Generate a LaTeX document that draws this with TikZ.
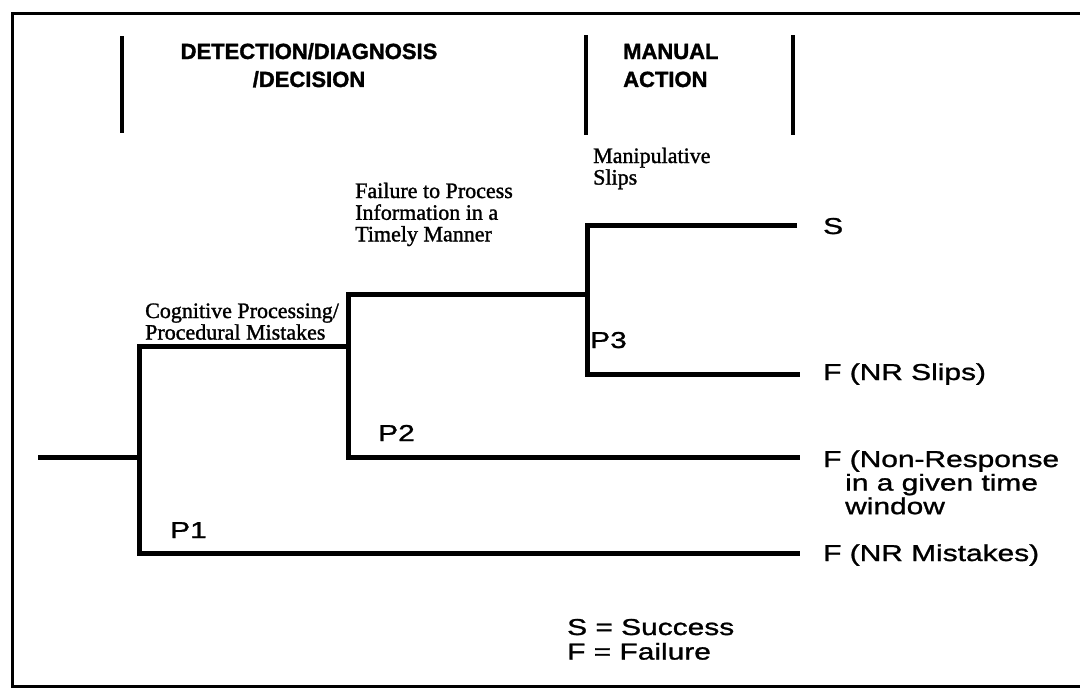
\documentclass[tikz,border=0pt]{standalone}
\usepackage{fontspec}
\newfontfamily\sansw{Liberation Sans}[FakeStretch=1.3, FakeBold=1.2]
\newfontfamily\hdrfont{Liberation Sans Bold}[FakeBold=1.5]
\newfontfamily\serifw{Liberation Serif}[FakeBold=1.3]
\begin{document}
\begin{tikzpicture}[x=1pt,y=-1pt,
  frame/.style={line width=3pt},
  bar/.style={line width=3.5pt},
  tree/.style={line width=5pt},
  lbl/.style={inner sep=0pt, anchor=base west, font=\sansw\fontsize{23}{23}\selectfont},
  ser/.style={inner sep=0pt, anchor=base west, font=\serifw\fontsize{22}{21}\selectfont},
  hdr/.style={inner sep=0pt, font=\hdrfont\fontsize{22}{28}\selectfont}]
\useasboundingbox (0,0) rectangle (1080,688);
\fill[white] (0,0) rectangle (1080,688);
% frame (open on the right)
\coordinate (ftr) at (1080,13);
\coordinate (ftl) at (12,13);
\coordinate (fbl) at (12,686);
\coordinate (fbr) at (1080,686);
\draw[frame] (ftr) -- (ftl) -- (fbl) -- (fbr);
% header bars
\coordinate (b1t) at (122,36); \coordinate (b1b) at (122,133);
\coordinate (b2t) at (586,35); \coordinate (b2b) at (586,135);
\coordinate (b3t) at (793,35); \coordinate (b3b) at (793,135);
\draw[bar] (b1t) -- (b1b);
\draw[bar] (b2t) -- (b2b);
\draw[bar] (b3t) -- (b3b);
\node[hdr, anchor=base] (hdet) at (309,59) {\begin{tabular}[t]{@{}c@{}}DETECTION/DIAGNOSIS\\/DECISION\end{tabular}};
\node[hdr, anchor=base west] (hman) at (623,59) {\begin{tabular}[t]{@{}l@{}}MANUAL\\ACTION\end{tabular}};
% tree points
\coordinate (s0) at (38,457);
\coordinate (n1) at (139,457);
\coordinate (n1u) at (139,346);
\coordinate (n1d) at (139,553);
\coordinate (e1) at (800,553);
\coordinate (n2u) at (348,294);
\coordinate (n2m) at (348,346);
\coordinate (n2d) at (348,457);
\coordinate (e2) at (800,457);
\coordinate (n3u) at (587,225);
\coordinate (n3m) at (587,294);
\coordinate (n3d) at (587,374);
\coordinate (e3) at (800,374);
\coordinate (e4) at (797,225);
\draw[tree] (s0) -- (n1);
\draw[tree] (n2m) -- (n1u) -- (n1d) -- (e1);
\draw[tree] (n3m) -- (n2u) -- (n2d) -- (e2);
\draw[tree] (e4) -- (n3u) -- (n3d) -- (e3);
% branch labels
\node[ser] (lcog) at (145,318) {\begin{tabular}[t]{@{}l@{}}Cognitive Processing/\\Procedural Mistakes\end{tabular}};
\node[ser] (lfail) at (355,198) {\begin{tabular}[t]{@{}l@{}}Failure to Process\\Information in a\\Timely Manner\end{tabular}};
\node[ser] (lman) at (593,163) {\begin{tabular}[t]{@{}l@{}}Manipulative\\Slips\end{tabular}};
\node[lbl] (p3) at (590,348) {P3};
\node[lbl] (p2) at (378,441) {P2};
\node[lbl] (p1) at (170,538) {P1};
% outcomes
\node[lbl] (os) at (823,234) {S};
\node[lbl] (oslip) at (823,380) {F (NR Slips)};
\node[lbl] (onr) at (823,467) {\begin{tabular}[t]{@{}l@{}}F (Non-Response\\\hspace{22pt}in a given time\\\hspace{22pt}window\end{tabular}};
\node[lbl] (omis) at (823,561) {F (NR Mistakes)};
% legend
\node[lbl] (leg) at (567,635) {\begin{tabular}[t]{@{}l@{}}S = Success\\[1pt]F = Failure\end{tabular}};
\end{tikzpicture}
\end{document}
